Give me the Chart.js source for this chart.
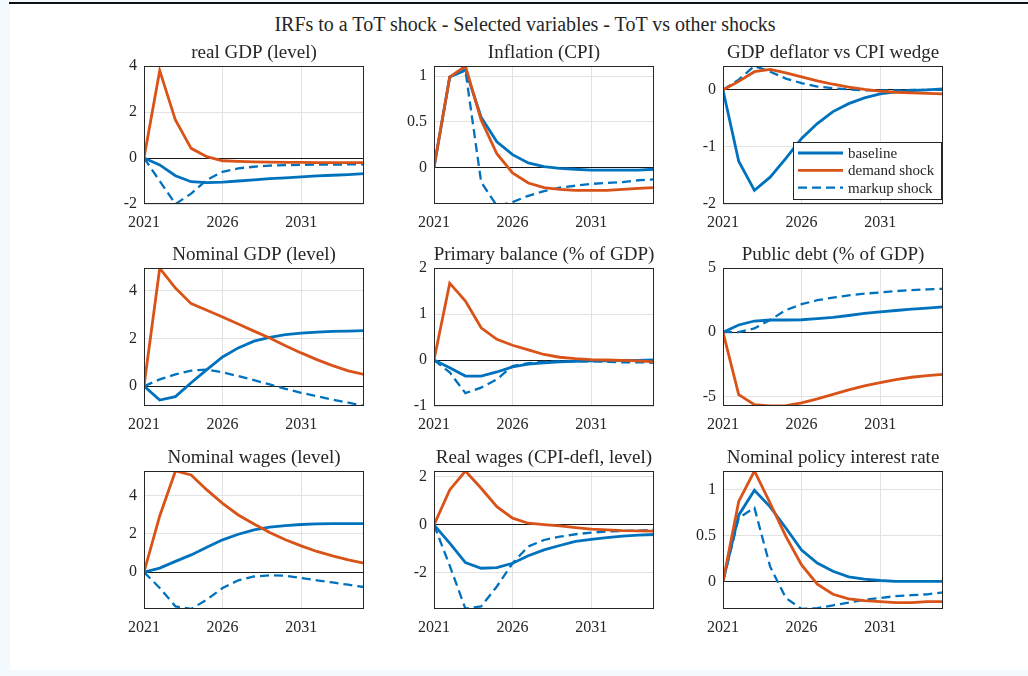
<!DOCTYPE html>
<html>
<head>
<meta charset="utf-8">
<script src="https://cdn.jsdelivr.net/npm/chart.js@4.4.1/dist/chart.umd.min.js"></script>
<style>
  body { margin: 0; background: #f4f9fd; width: 1028px; height: 676px; overflow: hidden; position: relative; }
  #sheet { position: absolute; left: 10px; top: 4px; width: 1018px; height: 666px; background: #fff; }
  #topline { position: absolute; left: 9px; top: 2px; right: 0; height: 2px; background: #111; }
  #suptitle { position: absolute; left: 25px; width: 1000px; top: 13px; text-align: center;
              font-family: "Liberation Serif", serif; font-size: 20px; color: #262626; line-height: 22px; }
  .cell { position: absolute; }
</style>
</head>
<body>
<div id="sheet"></div>
<div id="topline"></div>
<div id="suptitle">IRFs to a ToT shock - Selected variables - ToT vs other shocks</div>
<div id="cells"></div>
<script>
// x axis: annual horizon
const years = [2021, 2022, 2023, 2024, 2025, 2026, 2027, 2028, 2029, 2030, 2031, 2032, 2033, 2034, 2035];
const xTicks = [2021, 2026, 2031];
const seriesLabels = ['baseline', 'demand shock', 'markup shock'];

const panelTitles = [
    'real GDP (level)', 'Inflation (CPI)', 'GDP deflator vs CPI wedge',
    'Nominal GDP (level)', 'Primary balance (% of GDP)', 'Public debt (% of GDP)',
    'Nominal wages (level)', 'Real wages (CPI-defl, level)', 'Nominal policy interest rate'
];

// real GDP
const realGdpBase   = [0, -0.3, -0.77, -1.03, -1.07, -1.05, -1.0, -0.95, -0.9, -0.86, -0.82, -0.78, -0.75, -0.72, -0.68];
const realGdpDemand = [0, 3.8, 1.65, 0.42, 0.06, -0.12, -0.15, -0.17, -0.18, -0.19, -0.19, -0.2, -0.2, -0.2, -0.2];
const realGdpMarkup = [0, -1.0, -2.0, -1.55, -0.95, -0.6, -0.45, -0.38, -0.33, -0.31, -0.3, -0.29, -0.29, -0.28, -0.28];

// inflation
const inflBase   = [0, 0.99, 1.07, 0.55, 0.28, 0.14, 0.05, 0.01, -0.01, -0.02, -0.03, -0.03, -0.03, -0.03, -0.02];
const inflDemand = [0, 0.99, 1.11, 0.52, 0.15, -0.06, -0.17, -0.22, -0.24, -0.25, -0.25, -0.25, -0.24, -0.23, -0.22];
const inflMarkup = [0, 0.99, 1.06, -0.16, -0.42, -0.38, -0.31, -0.26, -0.22, -0.2, -0.18, -0.17, -0.16, -0.14, -0.13];

// GDP deflator vs CPI wedge
const wedgeBase   = [0, -1.25, -1.76, -1.53, -1.2, -0.85, -0.59, -0.38, -0.24, -0.14, -0.07, -0.035, -0.01, 0.0, 0.02];
const wedgeDemand = [0, 0.15, 0.32, 0.36, 0.3, 0.23, 0.16, 0.1, 0.05, 0.01, -0.02, -0.04, -0.05, -0.06, -0.07];
const wedgeMarkup = [0, 0.18, 0.42, 0.32, 0.2, 0.12, 0.06, 0.03, 0.01, -0.005, -0.01, -0.01, 0, 0, 0];

// nominal GDP
const nomGdpBase   = [0, -0.58, -0.44, 0.14, 0.69, 1.22, 1.6, 1.88, 2.04, 2.15, 2.22, 2.26, 2.29, 2.3, 2.32];
const nomGdpDemand = [0, 4.93, 4.1, 3.45, 3.17, 2.89, 2.6, 2.3, 2.01, 1.69, 1.39, 1.11, 0.86, 0.64, 0.49];
const nomGdpMarkup = [0, 0.28, 0.49, 0.65, 0.69, 0.58, 0.42, 0.25, 0.07, -0.11, -0.28, -0.42, -0.56, -0.69, -0.83];

// primary balance
const primBalBase   = [0, -0.17, -0.35, -0.35, -0.26, -0.15, -0.09, -0.06, -0.04, -0.03, -0.02, -0.02, -0.01, -0.01, 0];
const primBalDemand = [0, 1.67, 1.28, 0.7, 0.45, 0.32, 0.22, 0.12, 0.06, 0.03, 0.01, 0, -0.01, -0.02, -0.04];
const primBalMarkup = [0, -0.27, -0.72, -0.6, -0.42, -0.13, -0.07, -0.04, -0.03, -0.03, -0.03, -0.04, -0.05, -0.05, -0.06];

// public debt
const debtBase   = [0, 0.56, 0.87, 0.95, 0.95, 0.97, 1.05, 1.15, 1.3, 1.46, 1.59, 1.69, 1.79, 1.87, 1.97];
const debtDemand = [0, -4.87, -5.64, -5.75, -5.72, -5.51, -5.2, -4.85, -4.49, -4.18, -3.92, -3.69, -3.51, -3.38, -3.28];
const debtMarkup = [0, 0.0, 0.3, 0.95, 1.72, 2.18, 2.49, 2.69, 2.87, 3.0, 3.1, 3.2, 3.28, 3.33, 3.38];

// nominal wages
const wagesBase   = [0, 0.21, 0.56, 0.9, 1.3, 1.69, 1.98, 2.21, 2.35, 2.43, 2.49, 2.52, 2.54, 2.54, 2.54];
const wagesDemand = [0, 2.94, 5.29, 5.08, 4.3, 3.6, 2.99, 2.52, 2.07, 1.69, 1.37, 1.08, 0.85, 0.64, 0.47];
const wagesMarkup = [0, -0.83, -1.79, -1.93, -1.44, -0.83, -0.43, -0.23, -0.17, -0.19, -0.31, -0.43, -0.54, -0.66, -0.78];

// real wages
const realWagesBase   = [0, -0.76, -1.57, -1.81, -1.78, -1.6, -1.29, -1.04, -0.86, -0.69, -0.6, -0.53, -0.47, -0.43, -0.4];
const realWagesDemand = [0, 1.46, 2.25, 1.53, 0.76, 0.28, 0.07, 0.01, -0.04, -0.11, -0.18, -0.21, -0.24, -0.25, -0.26];
const realWagesMarkup = [0, -1.7, -3.5, -3.4, -2.57, -1.6, -0.9, -0.63, -0.49, -0.39, -0.32, -0.28, -0.25, -0.24, -0.21];

// policy rate
const rateBase   = [0, 0.72, 0.99, 0.81, 0.58, 0.34, 0.2, 0.11, 0.05, 0.025, 0.01, 0, 0, 0, 0];
const rateDemand = [0, 0.87, 1.2, 0.85, 0.49, 0.18, -0.03, -0.14, -0.19, -0.21, -0.22, -0.23, -0.23, -0.22, -0.22];
const rateMarkup = [0, 0.69, 0.8, 0.16, -0.18, -0.3, -0.29, -0.26, -0.23, -0.2, -0.18, -0.16, -0.15, -0.14, -0.12];

const baseSeries   = [realGdpBase, inflBase, wedgeBase, nomGdpBase, primBalBase, debtBase, wagesBase, realWagesBase, rateBase];
const demandSeries = [realGdpDemand, inflDemand, wedgeDemand, nomGdpDemand, primBalDemand, debtDemand, wagesDemand, realWagesDemand, rateDemand];
const markupSeries = [realGdpMarkup, inflMarkup, wedgeMarkup, nomGdpMarkup, primBalMarkup, debtMarkup, wagesMarkup, realWagesMarkup, rateMarkup];

const yTicks = [
    [-2, 0, 2, 4], [0, 0.5, 1], [-2, -1, 0],
    [0, 2, 4], [-1, 0, 1, 2], [-5, 0, 5],
    [0, 2, 4], [-2, 0, 2], [0, 0.5, 1]
];
const yLimits = [
    [-2, 4], [-0.4, 1.11], [-2, 0.42],
    [-0.83, 4.94], [-1, 2], [-5.75, 5],
    [-1.93, 5.29], [-3.51, 2.25], [-0.3, 1.2]
];

// layout of the 3x3 grid (plot area corners)
const colLefts = [144, 434, 723];
const rowTops = [66, 268, 471];
const plotW = 220, plotH = 138;
const padLeft = 60, padTop = 30, padRight = 70, padBottom = 34;

const blue = '#0072BD';
const orange = '#D95319';
const axisColor = '#262626';
const gridColor = '#e2e2e2';
const serif = '"Liberation Serif", "Times New Roman", serif';

const toPoints = arr => years.map((yr, i) => ({ x: yr, y: arr[i] }));

// box around the axes, subplot title and (optionally) the legend
const panelDecor = {
    id: 'panelDecor',
    afterDatasetsDraw(chart) {
        const { ctx, chartArea: a } = chart;
        ctx.save();
        ctx.strokeStyle = axisColor;
        ctx.lineWidth = 1;
        ctx.strokeRect(a.left + 0.5, a.top + 0.5, a.right - a.left - 1, a.bottom - a.top - 1);
        ctx.restore();
    },
    afterDraw(chart, args, opts) {
        const { ctx, chartArea: a } = chart;
        ctx.save();
        ctx.fillStyle = axisColor;
        ctx.font = '19px ' + serif;
        ctx.textAlign = 'center';
        ctx.textBaseline = 'alphabetic';
        ctx.fillText(opts.title, (a.left + a.right) / 2, a.top - 8);

        if (opts.legend) {
            const w = 148, h = 57;
            const x0 = a.right - 2 - w, y0 = a.bottom - 5 - h;
            ctx.fillStyle = '#fff';
            ctx.fillRect(x0, y0, w, h);
            ctx.strokeStyle = axisColor;
            ctx.lineWidth = 1;
            ctx.strokeRect(x0 + 0.5, y0 + 0.5, w, h);
            ctx.font = '15px ' + serif;
            ctx.textAlign = 'left';
            ctx.textBaseline = 'middle';
            chart.data.datasets.forEach((ds, i) => {
                const yy = y0 + 11 + i * 17.3;
                ctx.strokeStyle = ds.borderColor;
                ctx.lineWidth = ds.borderWidth;
                ctx.setLineDash(ds.borderDash || []);
                ctx.beginPath();
                ctx.moveTo(x0 + 5, yy);
                ctx.lineTo(x0 + 50, yy);
                ctx.stroke();
                ctx.setLineDash([]);
                ctx.fillStyle = axisColor;
                ctx.fillText(ds.label, x0 + 55, yy + 1);
            });
        }
        ctx.restore();
    }
};

const cells = document.getElementById('cells');

panelTitles.forEach((title, p) => {
    const row = Math.floor(p / 3), col = p % 3;
    const div = document.createElement('div');
    div.className = 'cell';
    div.style.left = (colLefts[col] - padLeft) + 'px';
    div.style.top = (rowTops[row] - padTop) + 'px';
    const canvas = document.createElement('canvas');
    canvas.width = padLeft + plotW + padRight;
    canvas.height = padTop + plotH + padBottom;
    div.appendChild(canvas);
    cells.appendChild(div);

    new Chart(canvas.getContext('2d'), {
        type: 'line',
        data: {
            datasets: [
                {
                    label: seriesLabels[0],
                    data: toPoints(baseSeries[p]),
                    borderColor: blue,
                    borderWidth: 2.8,
                    pointRadius: 0,
                    tension: 0,
                    order: 1
                },
                {
                    label: seriesLabels[1],
                    data: toPoints(demandSeries[p]),
                    borderColor: orange,
                    borderWidth: 2.8,
                    pointRadius: 0,
                    tension: 0,
                    order: 0
                },
                {
                    label: seriesLabels[2],
                    data: toPoints(markupSeries[p]),
                    borderColor: blue,
                    borderWidth: 2.3,
                    borderDash: [9, 5],
                    pointRadius: 0,
                    tension: 0,
                    order: 2
                }
            ]
        },
        options: {
            responsive: false,
            animation: false,
            layout: { padding: { top: padTop, right: padRight, left: 0, bottom: 0 } },
            plugins: {
                legend: { display: false },
                tooltip: { enabled: false },
                panelDecor: { title: title, legend: p === 2 }
            },
            scales: {
                x: {
                    type: 'linear',
                    min: years[0],
                    max: years[years.length - 1],
                    afterBuildTicks: scale => { scale.ticks = xTicks.map(v => ({ value: v })); },
                    afterFit: scale => { scale.height = padBottom; },
                    border: { display: false },
                    grid: { color: gridColor, drawTicks: false },
                    ticks: {
                        color: axisColor,
                        font: { family: serif, size: 16 },
                        padding: 9,
                        maxRotation: 0,
                        autoSkip: false,
                        callback: v => String(v)
                    }
                },
                y: {
                    min: yLimits[p][0],
                    max: yLimits[p][1],
                    afterBuildTicks: scale => { scale.ticks = yTicks[p].map(v => ({ value: v })); },
                    afterFit: scale => { scale.width = padLeft; },
                    border: { display: false },
                    grid: {
                        color: c => (c.tick && c.tick.value === 0) ? '#1a1a1a' : gridColor,
                        drawTicks: false
                    },
                    ticks: {
                        color: axisColor,
                        font: { family: serif, size: 16 },
                        padding: 7,
                        autoSkip: false,
                        callback: v => String(v)
                    }
                }
            }
        },
        plugins: [panelDecor]
    });
});
</script>
</body>
</html>
